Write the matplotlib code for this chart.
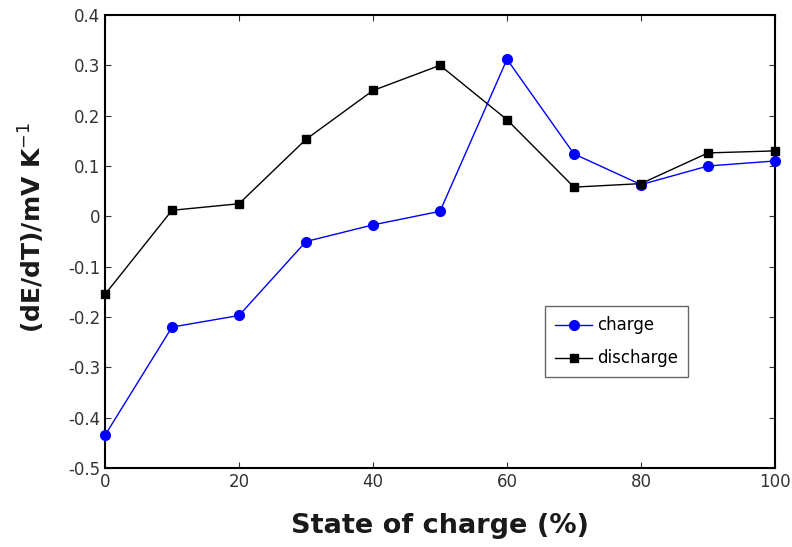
import matplotlib
matplotlib.use("Agg")
import matplotlib.pyplot as plt

# state of charge (%)
soc = [0, 10, 20, 30, 40, 50, 60, 70, 80, 90, 100]
# dE/dT values in mV/K
charge = [-0.435, -0.22, -0.197, -0.05, -0.017, 0.01, 0.312, 0.124, 0.063, 0.10, 0.11]
discharge = [-0.155, 0.012, 0.025, 0.153, 0.25, 0.30, 0.192, 0.058, 0.065, 0.126, 0.13]

xticks = [0, 20, 40, 60, 80, 100]
yticks = [-0.5, -0.4, -0.3, -0.2, -0.1, 0, 0.1, 0.2, 0.3, 0.4]

fig = plt.figure(figsize=(7.92, 5.47), dpi=100)
ax = fig.add_axes([0.1326, 0.1444, 0.8459, 0.8282])

ax.plot(soc, charge, '-o', color='#0000ff', lw=1.0, ms=7, label='charge', clip_on=False, zorder=3)
ax.plot(soc, discharge, '-s', color='black', lw=1.0, ms=6, label='discharge', clip_on=False, zorder=3)

ax.set_xlim(0, 100)
ax.set_ylim(-0.5, 0.4)
ax.set_xticks(xticks)
ax.set_yticks(yticks)
ax.set_yticklabels(['-0.5', '-0.4', '-0.3', '-0.2', '-0.1', '0', '0.1', '0.2', '0.3', '0.4'])
ax.tick_params(direction='in', top=True, right=True, labelsize=12, colors='#333333', length=4)
for s in ax.spines.values():
    s.set_linewidth(1.5)

ax.set_xlabel('State of charge (%)', fontsize=19.5, fontweight='bold', color='#1a1a1a', labelpad=16)
ax.set_ylabel('(dE/dT)/mV K$^{-1}$', fontsize=18, fontweight='bold', color='#1a1a1a')
ax.yaxis.set_label_coords(-0.086, 0.53)

leg = ax.legend(loc='upper left', bbox_to_anchor=(0.645, 0.375), fontsize=12,
                fancybox=False, edgecolor='#666666', handlelength=2.2,
                handletextpad=0.3, borderpad=0.6, labelspacing=0.9, framealpha=1)
leg.get_frame().set_linewidth(1.0)

fig.savefig('out.png', dpi=100)
